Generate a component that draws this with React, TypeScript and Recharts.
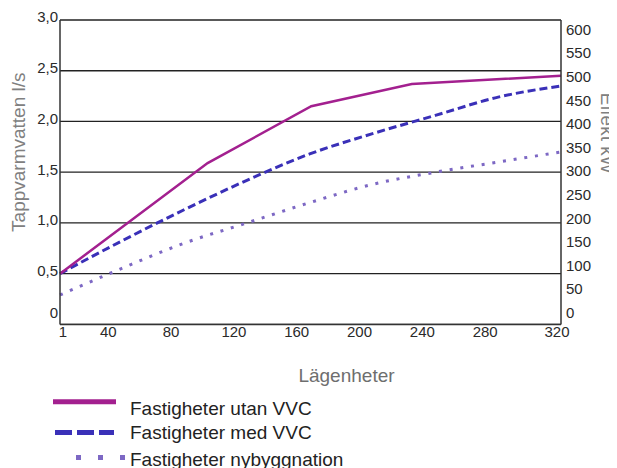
import React from 'react';
import { LineChart, Line, XAxis, YAxis, CartesianGrid } from 'recharts';

// ---- data ----
const lagenheter = [1, 40, 80, 120, 160, 200, 240, 280, 320];
const medVVC = [0.5, 0.82, 1.13, 1.42, 1.68, 1.88, 2.06, 2.24, 2.35];
const nybyggnation = [0.29, 0.55, 0.8, 1.0, 1.2, 1.38, 1.5, 1.6, 1.7];
const utanLagenheter = [1, 95, 161, 225, 320];
const utanVVC = [0.5, 1.59, 2.15, 2.37, 2.45];

const xTicks = [1, 40, 80, 120, 160, 200, 240, 280, 320];
const leftTicks = [0, 0.5, 1, 1.5, 2, 2.5, 3];
const leftTickLabels = ['0', '0,5', '1,0', '1,5', '2,0', '2,5', '3,0'];
const rightTicks = [0, 50, 100, 150, 200, 250, 300, 350, 400, 450, 500, 550, 600];
const seriesNames = ['Fastigheter utan VVC', 'Fastigheter med VVC', 'Fastigheter nybyggnation'];

const utanRows = utanLagenheter.map((x, i) => ({ x, y: utanVVC[i] }));
const medRows = lagenheter.map((x, i) => ({ x, y: medVVC[i] }));
const nyRows = lagenheter.map((x, i) => ({ x, y: nybyggnation[i] }));

// ---- styles ----
const FONT = "'Liberation Sans', Arial, sans-serif";
const C_UTAN = '#a3208f';
const C_MED = '#3a30b8';
const C_NY = '#7d68c4';
const TICK_FILL = '#2a2a2a';
const TITLE_FILL = '#808080';

const XTick = (props: any) => {
  const { x, y, payload, index } = props;
  const last = xTicks.length - 1;
  const shift = index === 0 ? 3 : index === last ? -4 : -13;
  return (
    <text x={x + shift} y={y} dy="0.71em" textAnchor="middle" fontSize={15} fill={TICK_FILL} fontFamily={FONT}>
      {String(payload.value)}
    </text>
  );
};

const LeftTick = (props: any) => {
  const { x, y, payload } = props;
  const i = leftTicks.indexOf(payload.value);
  const lift = payload.value === 0 ? -12 : -3;
  return (
    <text x={x} y={y + lift} dy="0.355em" textAnchor="end" fontSize={15} fill={TICK_FILL} fontFamily={FONT}>
      {i >= 0 ? leftTickLabels[i] : String(payload.value)}
    </text>
  );
};

const RightTick = (props: any) => {
  const { x, y, payload } = props;
  return (
    <text x={x} y={y} dy="0.355em" textAnchor="start" fontSize={15} fill={TICK_FILL} fontFamily={FONT}>
      {String(payload.value)}
    </text>
  );
};

const LeftTitle = (props: any) => {
  const vb = props.viewBox || { x: 0, y: 12, width: 52, height: 304 };
  const cx = vb.x + 11;
  const cy = vb.y + vb.height / 2 - 20;
  return (
    <text x={cx} y={cy} transform={`rotate(-90 ${cx} ${cy})`} textAnchor="middle" dominantBaseline="central" fontSize={19} fill={TITLE_FILL} fontFamily={FONT}>
      Tappvarmvatten l/s
    </text>
  );
};

const RightTitle = (props: any) => {
  const vb = props.viewBox || { x: 553, y: 12, width: 56, height: 304 };
  const cx = vb.x + 46;
  const cy = vb.y + vb.height / 2 - 39;
  return (
    <text x={cx} y={cy} transform={`rotate(90 ${cx} ${cy})`} textAnchor="middle" dominantBaseline="central" fontSize={19} fill={TITLE_FILL} fontFamily={FONT}>
      Effekt kW
    </text>
  );
};

const XTitle = (props: any) => {
  const vb = props.viewBox || { x: 52, y: 316, width: 501, height: 60 };
  const cx = vb.x + vb.width / 2 + 36;
  const cy = vb.y + 58;
  return (
    <text x={cx} y={cy} textAnchor="middle" fontSize={19} fill="#6e6e6e" fontFamily={FONT}>
      Lägenheter
    </text>
  );
};

export default function App() {
  return (
    <div style={{ position: 'relative', width: 609, height: 460, overflow: 'hidden' }}>
      <style>{'html,body{overflow:hidden}'}</style>
      <LineChart width={609} height={460} margin={{ top: 12, right: 0, bottom: 83.6, left: 0 }}>
        <CartesianGrid yAxisId="left" vertical={false} stroke="#222" strokeWidth={1.3} />
        <XAxis
          type="number"
          dataKey="x"
          domain={[1, 320]}
          ticks={xTicks}
          interval={0}
          height={60}
          tickSize={0}
          tickMargin={2}
          axisLine={{ stroke: '#333', strokeWidth: 1.5 }}
          tick={(p: any) => <XTick {...p} />}
          label={(p: any) => <XTitle {...p} />}
        />
        <YAxis
          yAxisId="left"
          type="number"
          domain={[0, 3]}
          ticks={leftTicks}
          interval={0}
          width={52}
          tickSize={0}
          tickMargin={2}
          axisLine={{ stroke: '#333', strokeWidth: 1.5 }}
          tick={(p: any) => <LeftTick {...p} />}
          label={(p: any) => <LeftTitle {...p} />}
        />
        <YAxis
          yAxisId="right"
          orientation="right"
          type="number"
          domain={[-25, 620]}
          allowDataOverflow
          ticks={rightTicks}
          interval={0}
          width={56}
          tickSize={0}
          tickMargin={5}
          axisLine={{ stroke: '#333', strokeWidth: 1.5 }}
          tick={(p: any) => <RightTick {...p} />}
          label={(p: any) => <RightTitle {...p} />}
        />
        <Line
          yAxisId="left"
          data={nyRows}
          dataKey="y"
          name={seriesNames[2]}
          type="monotone"
          stroke={C_NY}
          strokeWidth={3}
          strokeDasharray="3 7.8"
          dot={false}
          activeDot={false}
          isAnimationActive={false}
        />
        <Line
          yAxisId="left"
          data={medRows}
          dataKey="y"
          name={seriesNames[1]}
          type="monotone"
          stroke={C_MED}
          strokeWidth={3}
          strokeDasharray="8 4"
          dot={false}
          activeDot={false}
          isAnimationActive={false}
        />
        <Line
          yAxisId="left"
          data={utanRows}
          dataKey="y"
          name={seriesNames[0]}
          type="linear"
          stroke={C_UTAN}
          strokeWidth={2.5}
          dot={false}
          activeDot={false}
          isAnimationActive={false}
        />
      </LineChart>
      <svg width={609} height={460} style={{ position: 'absolute', left: 0, top: 0, pointerEvents: 'none' }}>
        <line x1={45} x2={108} y1={393.7} y2={393.7} stroke={C_UTAN} strokeWidth={5} />
        <text x={122} y={407} fontSize={19} fill="#222" fontFamily={FONT}>{seriesNames[0]}</text>
        <line x1={47} x2={106} y1={424.5} y2={424.5} stroke={C_MED} strokeWidth={5} strokeDasharray="17 5" />
        <text x={122} y={431.3} fontSize={19} fill="#222" fontFamily={FONT}>{seriesNames[1]}</text>
        <line x1={68} x2={117} y1={449.5} y2={449.5} stroke={C_NY} strokeWidth={5} strokeDasharray="5 17" />
        <text x={122} y={458} fontSize={19} fill="#222" fontFamily={FONT}>{seriesNames[2]}</text>
      </svg>
    </div>
  );
}
